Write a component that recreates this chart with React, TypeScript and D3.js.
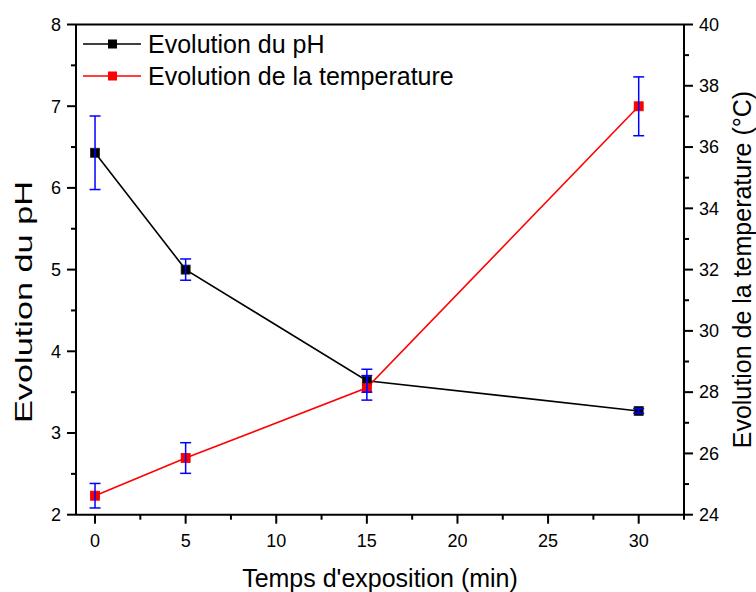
import React from "react";
import * as d3 from "d3";

const times = [0, 5, 15, 30];
const phValues = [6.43, 5.0, 3.64, 3.27];
const phErrors = [0.45, 0.13, 0.14, 0.03];
const tempValues = [24.62, 25.85, 28.14, 37.33];
const tempErrors = [0.4, 0.5, 0.4, 0.96];
const xTicks = [0, 5, 10, 15, 20, 25, 30];
const xMinorTicks = [2.5, 7.5, 12.5, 17.5, 22.5, 27.5, 32.5];
const phTicks = [2, 3, 4, 5, 6, 7, 8];
const phMinorTicks = [2.5, 3.5, 4.5, 5.5, 6.5, 7.5];
const tempTicks = [24, 26, 28, 30, 32, 34, 36, 38, 40];
const tempMinorTicks = [25, 27, 29, 31, 33, 35, 37, 39];
const legendLabels = ["Evolution du pH", "Evolution de la temperature"];
const seriesColors = ["#000000", "#ff0000"];
const errColor = "#0000ff";

const FONT = "'Liberation Sans', Arial, Helvetica, sans-serif";

export default function App() {
  const left = 76, right = 684, top = 24.5, bottom = 514.7;
  const x = d3.scaleLinear().domain([-1.05, 32.5]).range([left, right]);
  const yPh = d3.scaleLinear().domain([2, 8]).range([bottom, top]);
  const yT = d3.scaleLinear().domain([24, 40]).range([bottom, top]);

  const phPts: [number, number][] = times.map((t, i) => [t, phValues[i]]);
  const tPts: [number, number][] = times.map((t, i) => [t, tempValues[i]]);
  const linePh = d3.line<[number, number]>().x(d => x(d[0])).y(d => yPh(d[1]));
  const lineT = d3.line<[number, number]>().x(d => x(d[0])).y(d => yT(d[1]));

  const ms = 9;
  const cap = 5.5;
  const axisW = 2;

  const errBar = (cx: number, y1: number, y2: number, key: string) => (
    <g key={key} stroke={errColor} strokeWidth={1.5}>
      <line x1={cx} x2={cx} y1={y1} y2={y2} />
      <line x1={cx - cap} x2={cx + cap} y1={y1} y2={y1} />
      <line x1={cx - cap} x2={cx + cap} y1={y2} y2={y2} />
    </g>
  );

  return (
    <svg width={756} height={592} style={{ position: "absolute", left: 0, top: 0, background: "#fff" }} fontFamily={FONT}>
      {/* lines */}
      <path d={linePh(phPts) || ""} fill="none" stroke={seriesColors[0]} strokeWidth={1.6} />
      <path d={lineT(tPts) || ""} fill="none" stroke={seriesColors[1]} strokeWidth={1.6} />
      {/* markers */}
      {phPts.map((d, i) => (
        <rect key={"pm" + i} x={x(d[0]) - ms / 2} y={yPh(d[1]) - ms / 2} width={ms} height={ms} fill="#000" stroke="#222" strokeWidth={0.8} />
      ))}
      {tPts.map((d, i) => (
        <rect key={"tm" + i} x={x(d[0]) - ms / 2} y={yT(d[1]) - ms / 2} width={ms} height={ms} fill="#ff0000" stroke="#e00000" strokeWidth={0.8} />
      ))}
      {/* error bars */}
      {times.map((t, i) => errBar(x(t), yPh(phValues[i] + phErrors[i]), yPh(phValues[i] - phErrors[i]), "pe" + i))}
      {times.map((t, i) => errBar(x(t), yT(tempValues[i] + tempErrors[i]), yT(tempValues[i] - tempErrors[i]), "te" + i))}

      {/* frame */}
      <g stroke="#000" strokeWidth={axisW} fill="none">
        <line x1={left} x2={right} y1={top} y2={top} />
        <line x1={left} x2={right} y1={bottom} y2={bottom} />
        <line x1={left} x2={left} y1={top} y2={bottom} />
        <line x1={right} x2={right} y1={top} y2={bottom} />
      </g>

      {/* ticks */}
      <g stroke="#000" strokeWidth={axisW}>
        {xTicks.map(t => <line key={"xt" + t} x1={x(t)} x2={x(t)} y1={bottom} y2={bottom + 9} />)}
        {xMinorTicks.map(t => <line key={"xm" + t} x1={x(t)} x2={x(t)} y1={bottom} y2={bottom + 5} />)}
        {phTicks.map(t => <line key={"lt" + t} x1={left - 9} x2={left} y1={yPh(t)} y2={yPh(t)} />)}
        {phMinorTicks.map(t => <line key={"lm" + t} x1={left - 5} x2={left} y1={yPh(t)} y2={yPh(t)} />)}
        {tempTicks.map(t => <line key={"rt" + t} x1={right} x2={right + 9} y1={yT(t)} y2={yT(t)} />)}
        {tempMinorTicks.map(t => <line key={"rm" + t} x1={right} x2={right + 5} y1={yT(t)} y2={yT(t)} />)}
      </g>

      {/* tick labels */}
      <g fontSize={18} fill="#000">
        {xTicks.map(t => (
          <text key={"xl" + t} x={x(t)} y={547} textAnchor="middle">{t}</text>
        ))}
        {phTicks.map(t => (
          <text key={"ll" + t} x={61} y={yPh(t)} dy="0.35em" textAnchor="end">{t}</text>
        ))}
        {tempTicks.map(t => (
          <text key={"rl" + t} x={699} y={yT(t)} dy="0.35em" textAnchor="start">{t}</text>
        ))}
      </g>

      {/* axis titles */}
      <text x={380} y={587} fontSize={25} textAnchor="middle">Temps d'exposition (min)</text>
      <text transform={`translate(32,302) rotate(-90)`} fontSize={24} textAnchor="middle" textLength={242} lengthAdjust="spacingAndGlyphs">Evolution du pH</text>
      <text transform={`translate(751,${(top + bottom) / 2}) rotate(-90)`} fontSize={25} textAnchor="middle">Evolution de la temperature (°C)</text>

      {/* legend */}
      {legendLabels.map((lab, i) => {
        const ly = 44 + i * 32;
        return (
          <g key={"lg" + i}>
            <line x1={83} x2={141} y1={ly} y2={ly} stroke={seriesColors[i]} strokeWidth={1.6} />
            <rect x={112.5 - ms / 2} y={ly - ms / 2} width={ms} height={ms} fill={seriesColors[i]} />
            <text x={148} y={ly} dy="0.36em" fontSize={25}>{lab}</text>
          </g>
        );
      })}
    </svg>
  );
}
